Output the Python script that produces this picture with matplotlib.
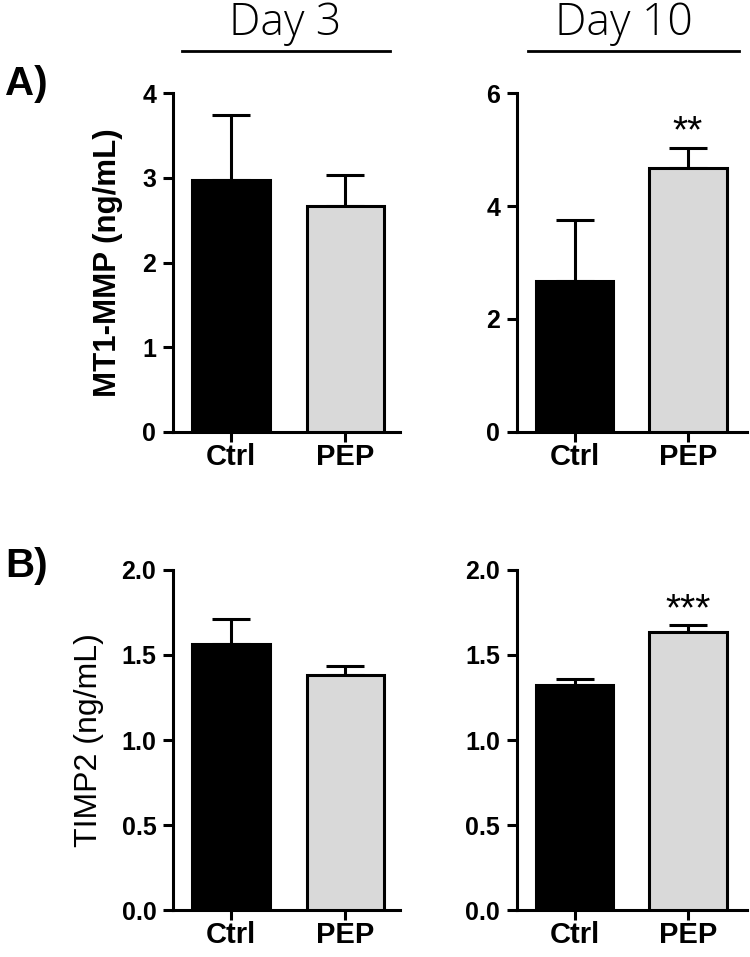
import matplotlib.pyplot as plt

plt.rcParams['font.family'] = 'Liberation Sans'

groups = ['Ctrl', 'PEP']
mt1_day3 = [2.97, 2.67]
mt1_day3_err = [0.77, 0.36]
mt1_day10 = [2.68, 4.67]
mt1_day10_err = [1.07, 0.35]
timp2_day3 = [1.565, 1.385]
timp2_day3_err = [0.145, 0.05]
timp2_day10 = [1.325, 1.635]
timp2_day10_err = [0.035, 0.04]

bar_colors = ['black', '#d9d9d9']
lw = 2.2

fig = plt.figure(figsize=(7.5, 9.57), dpi=100)

def panel(rect, vals, errs, ymax, yticks, yfmt, xlim, star=None, star_y=None):
    ax = fig.add_axes(rect)
    x = [0, 1]
    ax.bar(x, vals, width=0.68, color=bar_colors, edgecolor='black', linewidth=lw, zorder=3)
    ax.errorbar(x, vals, yerr=[[0, 0], errs], fmt='none', ecolor='black',
                elinewidth=lw, capsize=14, capthick=lw, zorder=2)
    ax.set_ylim(0, ymax)
    ax.set_xlim(*xlim)
    ax.set_yticks(yticks)
    ax.set_yticklabels([yfmt.format(v) for v in yticks], fontsize=18, fontweight='bold')
    ax.set_xticks(x)
    ax.set_xticklabels(groups, fontsize=21, fontweight='bold')
    for s in ['top', 'right']:
        ax.spines[s].set_visible(False)
    for s in ['left', 'bottom']:
        ax.spines[s].set_linewidth(lw)
    ax.tick_params(axis='both', width=lw, length=7)
    ax.tick_params(axis='y', pad=5)
    ax.tick_params(axis='x', pad=1)
    if star:
        ax.text(1, star_y, star, ha='center', va='center', fontsize=28)
    return ax

axA1 = panel([0.2307, 0.5486, 0.303, 0.3542], mt1_day3, mt1_day3_err, 4, [0, 1, 2, 3, 4], '{:g}', (-0.51, 1.48))
axA2 = panel([0.689, 0.5486, 0.307, 0.3542], mt1_day10, mt1_day10_err, 6, [0, 2, 4, 6], '{:g}', (-0.51, 1.52), '**', 5.3)
axB1 = panel([0.2307, 0.0491, 0.303, 0.3553], timp2_day3, timp2_day3_err, 2, [0, 0.5, 1.0, 1.5, 2.0], '{:.1f}', (-0.51, 1.48))
axB2 = panel([0.689, 0.0491, 0.307, 0.3553], timp2_day10, timp2_day10_err, 2, [0, 0.5, 1.0, 1.5, 2.0], '{:.1f}', (-0.51, 1.52), '***', 1.76)

axA1.set_ylabel('MT1-MMP (ng/mL)', fontsize=22.5, fontweight='bold')
axA1.yaxis.set_label_coords(-0.22, 0.5)
axB1.set_ylabel('TIMP2 (ng/mL)', fontsize=23)
axB1.yaxis.set_label_coords(-0.305, 0.5)

# Day headers with lines
fig.text(285 / 750, 1 - 35 / 957, 'Day 3', ha='center', va='baseline', fontsize=32,
         family='Open Sans', fontweight='light')
fig.add_artist(plt.Line2D([182 / 750, 390 / 750], [1 - 51 / 957] * 2, color='black', linewidth=2))
fig.text(624 / 750, 1 - 35 / 957, 'Day 10', ha='center', va='baseline', fontsize=32,
         family='Open Sans', fontweight='light')
fig.add_artist(plt.Line2D([528 / 750, 739 / 750], [1 - 51 / 957] * 2, color='black', linewidth=2))

fig.text(5 / 750, 1 - 84 / 957, 'A)', ha='left', va='center', fontsize=29, fontweight='bold')
fig.text(5 / 750, 1 - 566 / 957, 'B)', ha='left', va='center', fontsize=29, fontweight='bold')

fig.savefig('out.png', dpi=100)
